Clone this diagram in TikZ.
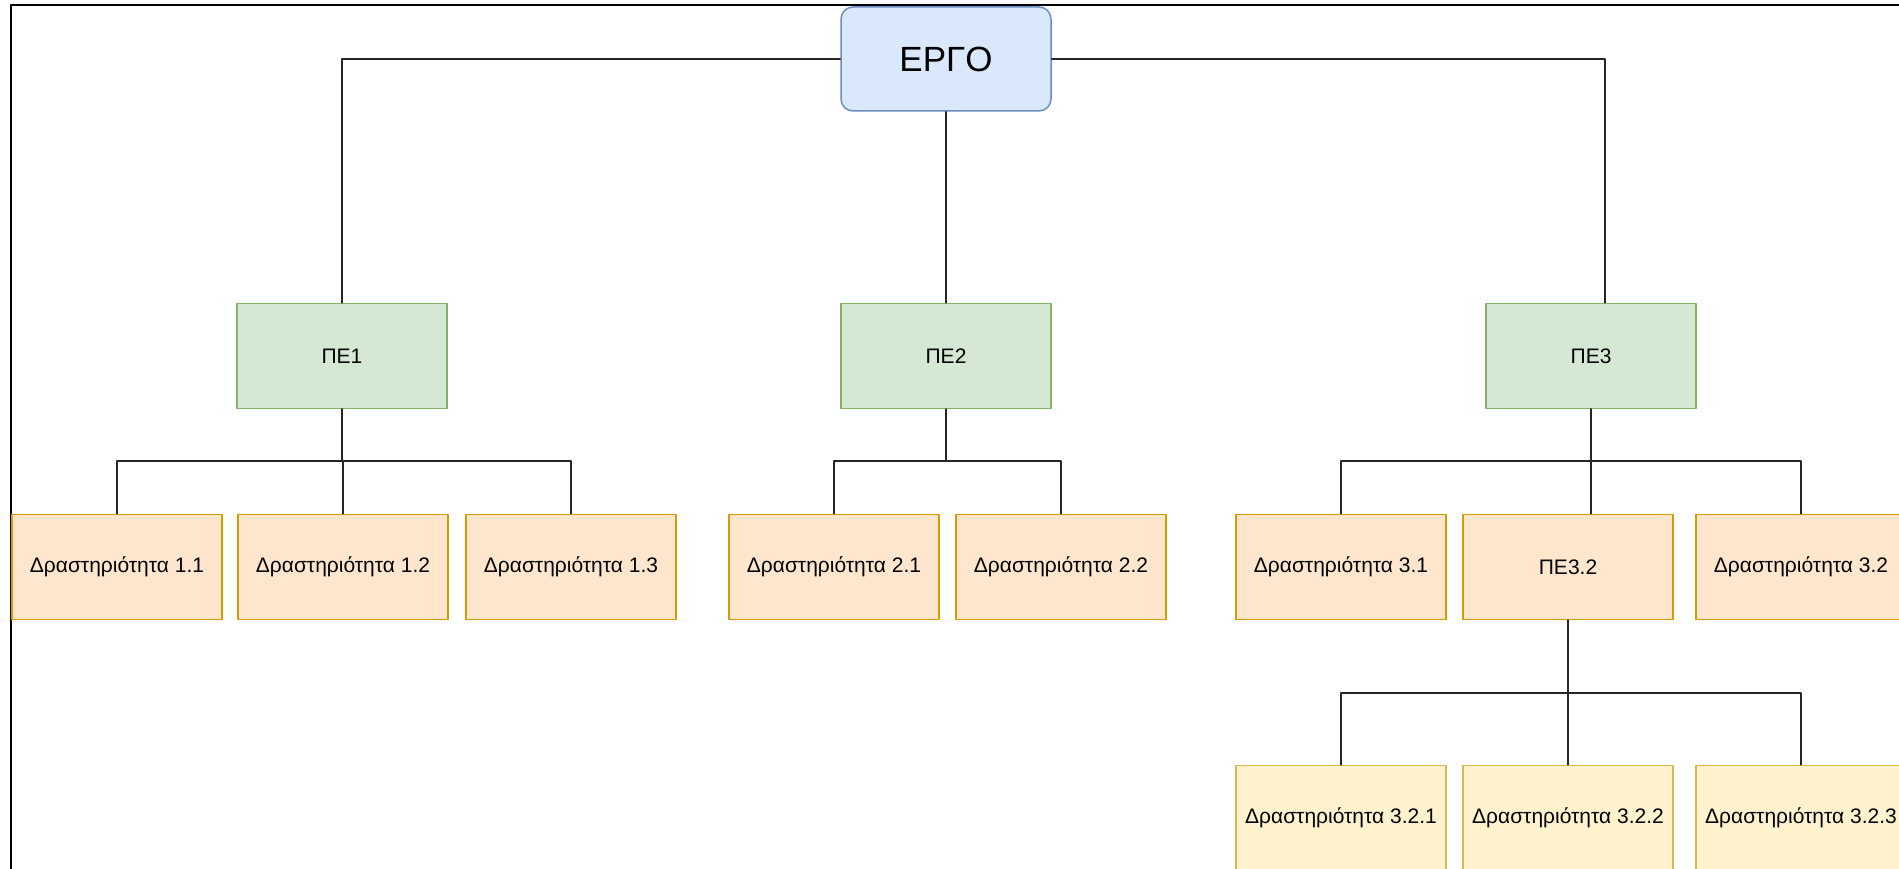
\documentclass[tikz,border=0pt]{standalone}
\usepackage{fontspec}
\setmainfont{Liberation Sans}
\definecolor{rootfill}{HTML}{DAE8FC}\definecolor{rootline}{HTML}{6C8EBF}
\definecolor{wpfill}{HTML}{D5E8D4}\definecolor{wpline}{HTML}{82B366}
\definecolor{actfill}{HTML}{FFE6CC}\definecolor{actline}{HTML}{D79B00}
\definecolor{subfill}{HTML}{FFF2CC}\definecolor{subline}{HTML}{D6B656}
\begin{document}
\begin{tikzpicture}[x=1pt, y=-1pt, line join=round, line cap=round,
	box/.style={draw, line width=1.5, minimum width=210, minimum height=105, inner sep=0, font=\fontsize{21}{25}\selectfont},
	root/.style={box, rounded corners=12, minimum height=104, fill=rootfill, draw=rootline, font=\fontsize{35}{42}\selectfont},
	wp/.style={box, fill=wpfill, draw=wpline},
	act/.style={box, fill=actfill, draw=actline},
	sub/.style={box, fill=subfill, draw=subline},
	link/.style={line width=1.75, black!85}]
	\useasboundingbox (0,0) rectangle (1899,869);
	\clip (0,0) rectangle (1899,869);
	\draw[line width=2] (11,880) -- (11,5) -- (1910,5);
	% top and work packages
	\node[root] (ergo) at (946,59) {ΕΡΓΟ};
	\node[wp] (pe1) at (342,356) {ΠΕ1};
	\node[wp] (pe2) at (946,356) {ΠΕ2};
	\node[wp] (pe3) at (1591,356) {ΠΕ3};
	% activities
	\node[act] (a11) at (117,567) {Δραστηριότητα 1.1};
	\node[act] (a12) at (343,567) {Δραστηριότητα 1.2};
	\node[act] (a13) at (571,567) {Δραστηριότητα 1.3};
	\node[act] (a21) at (834,567) {Δραστηριότητα 2.1};
	\node[act] (a22) at (1061,567) {Δραστηριότητα 2.2};
	\node[act] (a31) at (1341,567) {Δραστηριότητα 3.1};
	\node[act] (pe32) at (1568,567) {ΠΕ3.2};
	\node[act] (a32) at (1801,567) {Δραστηριότητα 3.2};
	\node[sub] (a321) at (1341,818) {Δραστηριότητα 3.2.1};
	\node[sub] (a322) at (1568,818) {Δραστηριότητα 3.2.2};
	\node[sub] (a323) at (1801,818) {Δραστηριότητα 3.2.3};
	% links
	\draw[link] (ergo.west) -| (pe1.north);
	\draw[link] (ergo.south) -- (pe2.north);
	\draw[link] (ergo.east) -| ([xshift=14]pe3.north);
	\foreach \c in {a11,a12,a13} \draw[link] (pe1.south) -- ++(0,52) -| (\c.north);
	\foreach \c in {a21,a22} \draw[link] (pe2.south) -- ++(0,52) -| (\c.north);
	\foreach \c in {a31,a32} \draw[link] (pe3.south) -- ++(0,52) -| (\c.north);
	\draw[link] (pe3.south) -- (pe3.south |- pe32.north);
	\foreach \c in {a321,a322,a323} \draw[link] (pe32.south) -- ++(0,73) -| (\c.north);
\end{tikzpicture}
\end{document}
